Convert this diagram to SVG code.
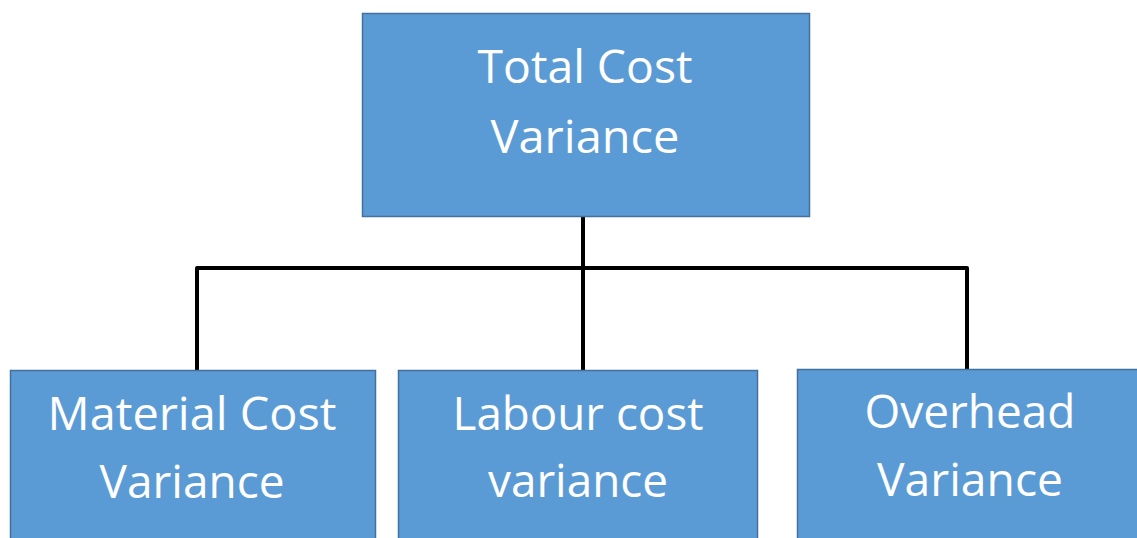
<svg xmlns="http://www.w3.org/2000/svg" width="1137" height="538" viewBox="0 0 1137 538">
<style>
.box{fill:#5B9BD5;stroke:#41719C;stroke-width:1.5}
.t{font-family:"Open Sans","Liberation Sans",sans-serif;font-size:46px;fill:#fff;text-anchor:middle}
.c{stroke:#000;stroke-width:4;fill:none;stroke-linejoin:round}
</style>
<rect width="1137" height="538" fill="#fff"/>
<g id="connectors">
<path class="c" d="M583 217V370"/>
<path class="c" d="M197 370V268H967V369"/>
</g>
<g id="total">
<rect class="box" x="362.5" y="13.5" width="447" height="203"/>
<text class="t" x="585" y="83" textLength="215" lengthAdjust="spacingAndGlyphs">Total Cost</text>
<text class="t" x="585" y="153" textLength="189" lengthAdjust="spacingAndGlyphs">Variance</text>
</g>
<g id="material">
<rect class="box" x="10.5" y="370.5" width="365" height="170"/>
<text class="t" x="192" y="430" textLength="289" lengthAdjust="spacingAndGlyphs">Material Cost</text>
<text class="t" x="192" y="498" textLength="185" lengthAdjust="spacingAndGlyphs">Variance</text>
</g>
<g id="labour">
<rect class="box" x="398.5" y="370.5" width="359" height="170"/>
<text class="t" x="578" y="430" textLength="251" lengthAdjust="spacingAndGlyphs">Labour cost</text>
<text class="t" x="578" y="497" textLength="180" lengthAdjust="spacingAndGlyphs">variance</text>
</g>
<g id="overhead">
<rect class="box" x="797.5" y="369.5" width="345" height="171"/>
<text class="t" x="970" y="428" textLength="211" lengthAdjust="spacingAndGlyphs">Overhead</text>
<text class="t" x="970" y="496" textLength="186" lengthAdjust="spacingAndGlyphs">Variance</text>
</g>
</svg>
